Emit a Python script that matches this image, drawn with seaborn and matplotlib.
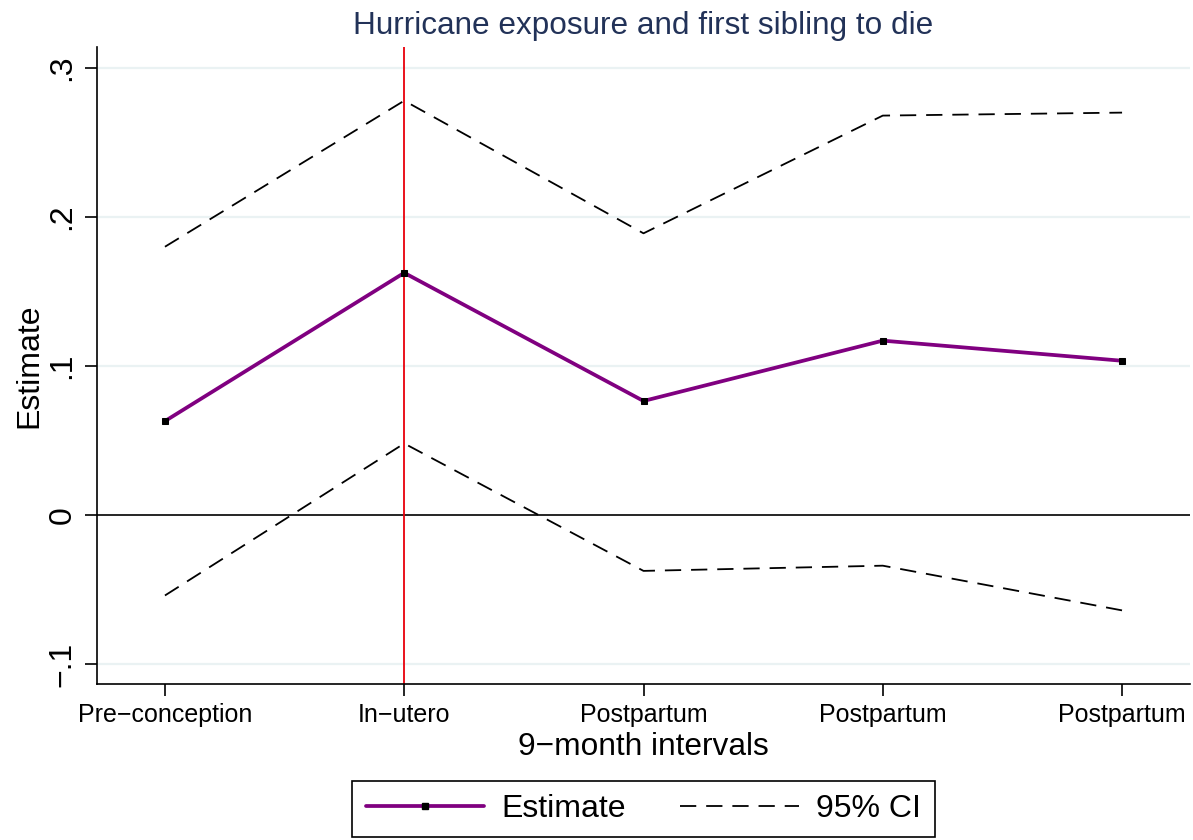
import numpy as np
import pandas as pd
import seaborn as sns
import matplotlib.pyplot as plt
from matplotlib.lines import Line2D

intervals = ['Pre\u2212conception', 'In\u2212utero', 'Postpartum', 'Postpartum', 'Postpartum']
estimate = [0.063, 0.1625, 0.0765, 0.117, 0.1035]
ci_upper = [0.180, 0.278, 0.189, 0.268, 0.270]
ci_lower = [-0.054, 0.048, -0.0375, -0.034, -0.064]

df = pd.DataFrame({'pos': np.arange(len(intervals)), 'estimate': estimate,
                   'upper': ci_upper, 'lower': ci_lower})

sns.set_style('white')
plt.rcParams['font.family'] = ['Liberation Sans', 'DejaVu Sans']
for key in ['text.color', 'axes.labelcolor', 'xtick.color', 'ytick.color']:
    plt.rcParams[key] = 'black'

fig = plt.figure(figsize=(11.93, 8.40), dpi=100)
ax = fig.add_axes([0.0813, 0.1857, 0.9162, 0.7583])

grid_col = '#eaf2f3'
for yv in [-0.1, 0.1, 0.2, 0.3]:
    ax.axhline(yv, color=grid_col, lw=1.6, zorder=0)
ax.axhline(0, color='black', lw=1.2, zorder=1)
ax.axvline(1, color='#e8000b', lw=1.3, zorder=1)

ci_dash = (9, 5.5)
sns.lineplot(data=df, x='pos', y='upper', ax=ax, color='black', lw=1.3, zorder=2)
ax.lines[-1].set_dashes(ci_dash)
sns.lineplot(data=df, x='pos', y='lower', ax=ax, color='black', lw=1.3, zorder=2)
ax.lines[-1].set_dashes(ci_dash)
sns.lineplot(data=df, x='pos', y='estimate', ax=ax, color='#800080', lw=2.7,
             marker='s', markersize=4.3, markerfacecolor='black',
             markeredgecolor='black', zorder=3)

ax.set_xlim(-0.284, 4.284)
ax.set_ylim(-0.1134, 0.314)
ax.set_xticks(df['pos'])
ax.set_xticklabels(intervals, fontsize=18)
ax.set_yticks([-0.1, 0, 0.1, 0.2, 0.3])
ax.set_yticklabels(['\u2212.1', '0', '.1', '.2', '.3'], fontsize=23,
                   rotation=90, va='center')
ax.tick_params(axis='both', direction='out', length=8.6, width=1.2,
               color='black', bottom=True, left=True)
ax.tick_params(axis='x', pad=5)
ax.tick_params(axis='y', pad=5.5)

for side in ['top', 'right']:
    ax.spines[side].set_visible(False)
for side in ['left', 'bottom']:
    ax.spines[side].set_color('black')
    ax.spines[side].set_linewidth(1.2)

ax.set_xlabel('9\u2212month intervals', fontsize=22.8, labelpad=4)
ax.set_ylabel('Estimate', fontsize=23, labelpad=2)
ax.set_title('Hurricane exposure and first sibling to die', fontsize=22.7,
             color='#223258', pad=9.5)

handles = [Line2D([0], [0], color='#800080', lw=2.7, marker='s', markersize=4.3,
                  markerfacecolor='black', markeredgecolor='black'),
           Line2D([0], [0], color='black', lw=1.3, dashes=ci_dash)]
leg = fig.legend(handles, ['Estimate', '95% CI'], loc='center',
                 bbox_to_anchor=(0.5394, 0.0369), ncol=2, fontsize=23,
                 frameon=True, fancybox=False, edgecolor='black', framealpha=1,
                 numpoints=1, handlelength=3.7, handletextpad=0.55,
                 columnspacing=1.7, borderpad=0.42, borderaxespad=0)
leg.get_frame().set_linewidth(1.2)

fig.savefig('out.png', dpi=100)
